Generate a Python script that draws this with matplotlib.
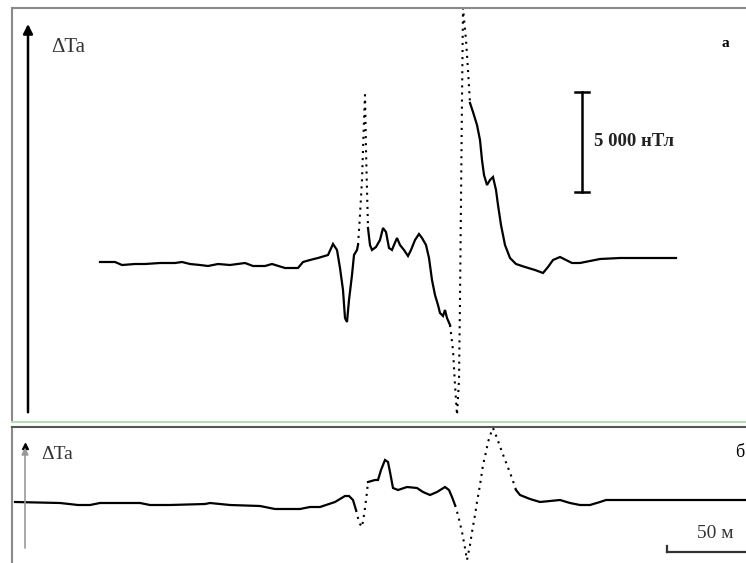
import matplotlib
matplotlib.use("Agg")
import matplotlib.pyplot as plt
from matplotlib.lines import Line2D

plt.rcParams['font.family'] = ['Liberation Serif', 'DejaVu Serif']

# profile "a" (distance in m, anomaly in nT); solid and dotted pieces
a1_x = [0, 7.5, 11, 17.5, 22.5, 30, 37.5, 41, 45, 50, 54, 59, 65, 72.5, 76.5, 82.5, 86, 92.5, 99,
        101.5, 105, 109, 114, 116.5, 118.5, 120, 121.5, 122.5, 123.5, 124.5, 126, 127, 128.5, 129]
a1_y = [0, 0, -150, -100, -100, -50, -50, 0, -100, -150, -200, -100, -150, -50, -200, -200, -100, -300, -300,
        0, 100, 200, 350, 900, 600, -300, -1400, -2800, -3000, -1900, -650, 350, 600, 850]
a2_x = [129, 130, 131, 131.5, 132, 132.5, 133, 133.5, 134]
a2_y = [850, 2350, 4100, 5600, 7100, 8350, 5600, 3600, 1750]
a3_x = [134, 135, 136, 138, 140, 141.5, 143, 144.5, 146, 147, 148.5, 150, 152, 154, 155.5, 157.5, 159.5,
        161, 163, 164.5, 166, 167.5, 169, 170, 171.5, 172.5, 173.5, 175]
a3_y = [1700, 850, 600, 750, 1100, 1700, 1500, 700, 600, 850, 1200, 850, 600, 300, 600, 1100, 1400,
        1200, 850, 200, -900, -1650, -2150, -2550, -2700, -2400, -2800, -3150]
a4_x = [175, 176.5, 177.5, 178.5, 179.5, 180, 180.5, 181, 181.5, 183, 184, 185]
a4_y = [-3150, -4400, -6150, -7650, -5900, -1900, 3100, 8100, 12700, 11100, 9600, 7950]
a5_x = [185, 186.5, 188.5, 190, 191, 192, 193.5, 195, 196.5, 198, 199, 200.5, 202.5, 205, 208, 212.5,
        217.5, 221.5, 224, 226.5, 230, 233, 236, 240, 245, 250, 260, 275, 288]
a5_y = [7950, 7500, 6850, 6100, 5100, 4350, 3850, 4100, 4250, 3600, 2850, 1850, 850, 200, -100, -250,
        -400, -550, -250, 100, 250, 100, -50, -50, 50, 150, 200, 200, 200]

# profile "б"
b1_x = [-42.5, -20, -11, -5, 0, 20, 25, 35, 52.5, 55, 65, 80, 87.5, 100, 105, 110, 117.5, 122.5, 124.5, 126.5, 128]
b1_y = [50, 0, -100, -100, 0, 0, -100, -100, -50, 0, -100, -150, -300, -300, -200, -200, 50, 350, 350, 150, -350]
b2_x = [128, 129, 130, 131, 132, 132.5, 133.5, 134]
b2_y = [-350, -750, -1050, -1200, -600, -250, 550, 1050]
b3_x = [134, 137.5, 139, 140.5, 142.5, 144, 145, 146.5, 149, 153.5, 158.5, 161.5, 165, 168.5, 172.5, 174.5, 176, 177.5]
b3_y = [1050, 1150, 1150, 1650, 2150, 2050, 1550, 750, 650, 800, 750, 550, 400, 550, 800, 650, 300, -100]
b4_x = [177.5, 179, 181, 182.5, 183.5, 185, 186, 187.5, 188.5, 190, 191.5, 193, 194, 195.5, 196.5, 198.5,
        201, 203.5, 206, 208]
b4_y = [-100, -600, -1450, -2250, -2850, -2100, -1450, -600, 50, 900, 1900, 2550, 3050, 3500, 3750, 3250,
        2550, 1900, 1250, 650]
b5_x = [208, 210, 215, 220, 225, 230, 235, 240, 245, 250, 253, 275, 300, 323]
b5_y = [650, 400, 200, 50, 100, 150, 0, -100, -100, 50, 150, 150, 150, 150]

scale_nt = 5000
scale_m = 50

W, H = 746, 563
fig = plt.figure(figsize=(W / 100, H / 100), dpi=100)

ax1 = fig.add_axes([12 / W, 1 - 420 / H, (W - 12) / W, 412 / H])
ax2 = fig.add_axes([12 / W, 0, (W - 12) / W, 136 / H])

for ax in (ax1, ax2):
    ax.set_xlim(-44, 323)
    ax.set_xticks([])
    ax.set_yticks([])
    ax.spines['right'].set_visible(False)
    ax.spines['bottom'].set_visible(False)
    ax.spines['left'].set_color('#8a8a8a')
    ax.spines['left'].set_linewidth(1.5)
ax1.spines['top'].set_color('#8a8a8a')
ax1.spines['top'].set_linewidth(1.5)
ax2.spines['top'].set_color('#555555')
ax2.spines['top'].set_linewidth(1.5)
ax1.set_ylim(-7900, 12700)
ax2.set_ylim(-3000, 3800)

solid = dict(color='black', lw=1.6, solid_joinstyle='miter')
dots = dict(color='black', lw=1.5, linestyle=(0, (1, 2.4)))

ax1.plot(a1_x, a1_y, **solid)
ax1.plot(a2_x, a2_y, **dots)
ax1.plot(a3_x, a3_y, **solid)
ax1.plot(a4_x, a4_y, clip_on=False, **dots)
ax1.plot(a5_x, a5_y, **solid)

ax2.plot(b1_x, b1_y, **solid)
ax2.plot(b2_x, b2_y, **dots)
ax2.plot(b3_x, b3_y, **solid)
ax2.plot(b4_x, b4_y, clip_on=False, **dots)
ax2.plot(b5_x, b5_y, **solid)

# separator line between panels
fig.add_artist(Line2D([12 / W, 1], [1 - 422 / H, 1 - 422 / H], color='#b9dbb9', lw=1.5))

# axis arrows
ax1.annotate('', xy=(16 / 734, 0.968), xytext=(16 / 734, 0.012), xycoords='axes fraction',
             arrowprops=dict(arrowstyle='-|>', color='black', lw=1.8, mutation_scale=14))
ax2.annotate('', xy=(13 / 734, 0.87), xytext=(13 / 734, 0.09), xycoords='axes fraction',
             arrowprops=dict(arrowstyle='-|>', color='#999999', lw=1.2, mutation_scale=10))
ax2.plot([13 / 734], [0.86], marker='^', color='black', markersize=5, transform=ax2.transAxes, clip_on=False)

ax1.text(39 / 734, 0.905, 'ΔTa', fontsize=15, color='#333333', transform=ax1.transAxes, va='center')
ax1.text(710 / 734, 0.915, 'а', fontsize=11, fontweight='bold', color='black', transform=ax1.transAxes, va='center')
ax2.text(29 / 734, 0.80, 'ΔTa', fontsize=14, color='#333333', transform=ax2.transAxes, va='center')
ax2.text(723 / 734, 0.81, 'б', fontsize=13, color='black', transform=ax2.transAxes, va='center')

# scale bars
bar_x = 241
ax1.plot([bar_x, bar_x], [3500, 3500 + scale_nt], color='black', lw=1.8)
ax1.plot([bar_x - 3.5, bar_x + 3.5], [3500, 3500], color='black', lw=1.8)
ax1.plot([bar_x - 3.5, bar_x + 3.5], [3500 + scale_nt, 3500 + scale_nt], color='black', lw=1.8)
ax1.text(bar_x + 6, 3500 + scale_nt / 2, '5 000 нТл', fontsize=13.5, fontweight='bold',
         color='#222222', va='center', ha='left')

sb_x = 283.5
ax2.plot([sb_x, sb_x + scale_m], [-2450, -2450], color='#333333', lw=1.6)
ax2.plot([sb_x, sb_x], [-2450, -2150], color='#333333', lw=1.6)
ax2.text(sb_x + 24, -1500, '50 м', fontsize=14, color='#333333', ha='center', va='center')

fig.savefig('out.png', dpi=100)
